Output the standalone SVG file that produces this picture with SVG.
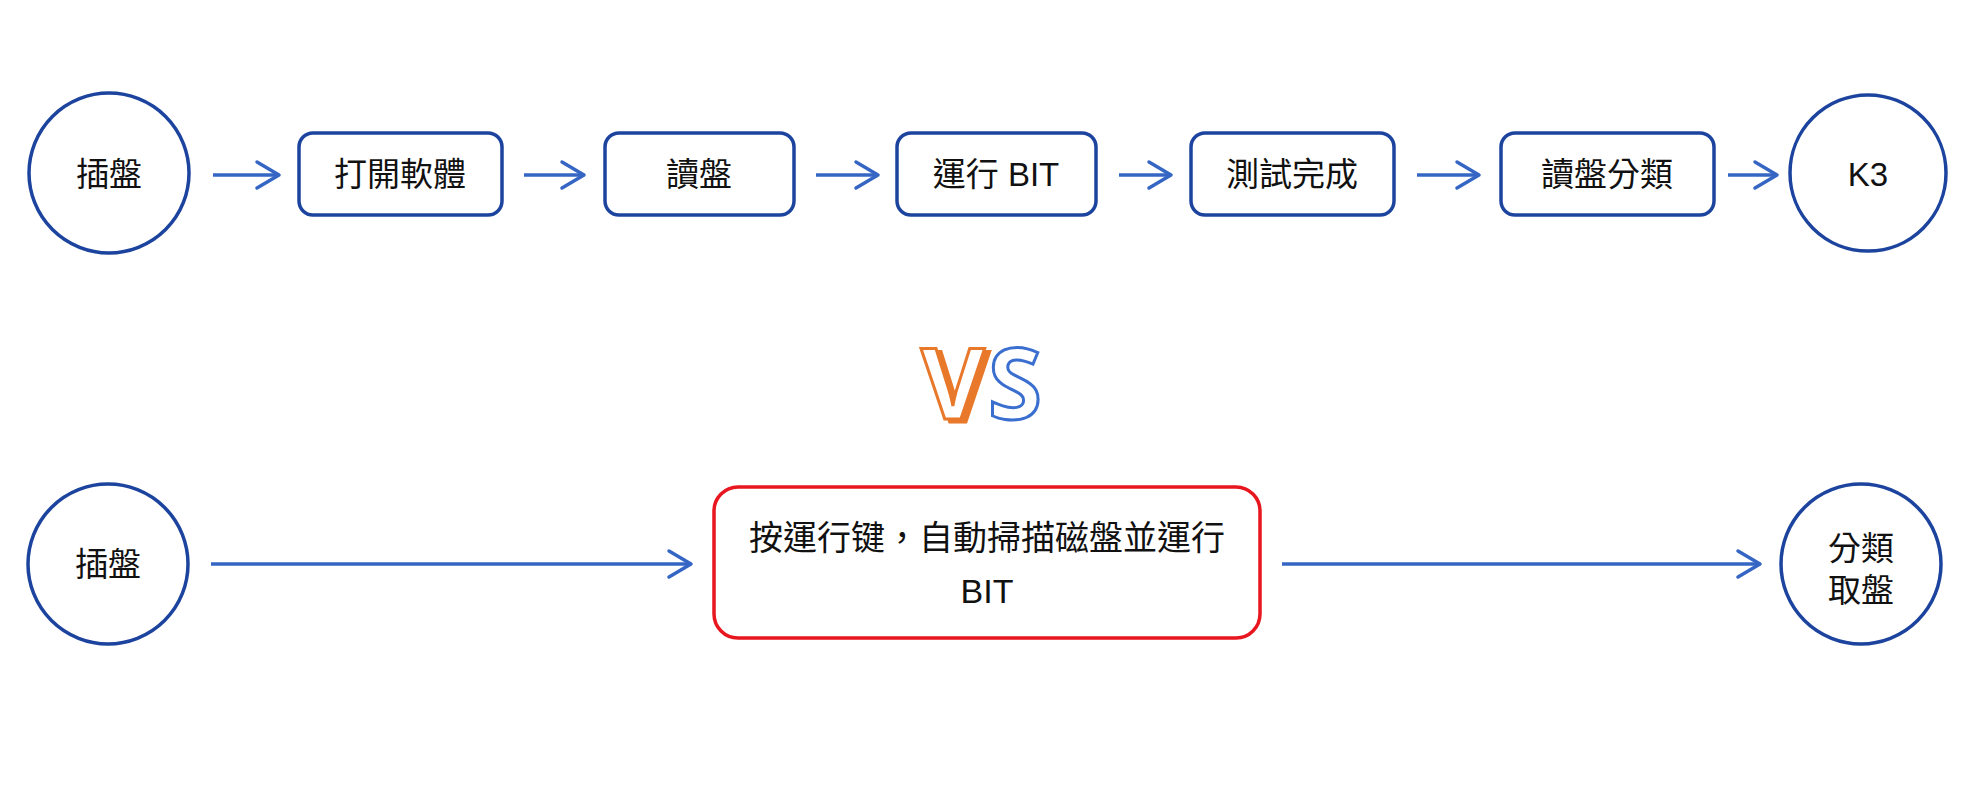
<svg xmlns="http://www.w3.org/2000/svg" width="1974" height="797" viewBox="0 0 1974 797">
  <style>
    .node { fill: #ffffff; stroke: #1c449e; stroke-width: 3.5; }
    .red { fill: #ffffff; stroke: #e8161e; stroke-width: 3.5; }
    .lbl { font-family: "Liberation Sans", "Noto Sans CJK TC", sans-serif; font-size: 33px; fill: #111111; text-anchor: middle; dominant-baseline: central; }
    .edge { stroke: #3566c4; stroke-width: 3.5; fill: none; marker-end: url(#arrow); }
    .vs { font-family: "Open Sans", "Liberation Sans", sans-serif; font-weight: 700; font-size: 98px; }
  </style>
  <defs>
    <marker id="arrow" markerUnits="userSpaceOnUse" markerWidth="30" markerHeight="34" refX="25" refY="16" orient="auto">
      <path d="M3,3 L25,16 L3,29" fill="none" stroke="#3566c4" stroke-width="3.5" stroke-linecap="round" stroke-linejoin="round"/>
    </marker>
    <filter id="vshadow" x="-20%" y="-20%" width="150%" height="150%">
      <feOffset in="SourceAlpha" dx="5" dy="3" result="off"/>
      <feFlood flood-color="#e8782a"/>
      <feComposite in2="off" operator="in" result="sh"/>
      <feMerge>
        <feMergeNode in="sh"/>
        <feMergeNode in="SourceGraphic"/>
      </feMerge>
    </filter>
  </defs>
  <rect width="1974" height="797" fill="#ffffff"/>

  <g id="connectors">
    <line class="edge" x1="213" y1="175" x2="279" y2="175"/>
    <line class="edge" x1="524" y1="175" x2="584" y2="175"/>
    <line class="edge" x1="816" y1="175" x2="878" y2="175"/>
    <line class="edge" x1="1119" y1="175" x2="1171" y2="175"/>
    <line class="edge" x1="1417" y1="175" x2="1479" y2="175"/>
    <line class="edge" x1="1728" y1="175" x2="1777" y2="175"/>
    <line class="edge" x1="211" y1="564" x2="691" y2="564"/>
    <line class="edge" x1="1282" y1="564" x2="1760" y2="564"/>
  </g>

  <g id="n-insert-top">
    <circle class="node" cx="109" cy="173" r="80"/>
    <text class="lbl" x="109" y="174">插盤</text>
  </g>
  <g id="n-open-software">
    <rect class="node" x="299" y="133" width="203" height="82" rx="14"/>
    <text class="lbl" x="400" y="174">打開軟體</text>
  </g>
  <g id="n-read-disk">
    <rect class="node" x="605" y="133" width="189" height="82" rx="14"/>
    <text class="lbl" x="699" y="174">讀盤</text>
  </g>
  <g id="n-run-bit">
    <rect class="node" x="897" y="133" width="199" height="82" rx="14"/>
    <text class="lbl" x="996" y="174">運行 BIT</text>
  </g>
  <g id="n-test-done">
    <rect class="node" x="1191" y="133" width="203" height="82" rx="14"/>
    <text class="lbl" x="1292" y="174">測試完成</text>
  </g>
  <g id="n-classify">
    <rect class="node" x="1501" y="133" width="213" height="82" rx="14"/>
    <text class="lbl" x="1607" y="174">讀盤分類</text>
  </g>
  <g id="n-k3">
    <circle class="node" cx="1868" cy="173" r="78"/>
    <text class="lbl" x="1868" y="174">K3</text>
  </g>

  <g id="vs">
    <text class="vs" x="921" y="419" fill="#ffffff" stroke="#e8782a" stroke-width="3" filter="url(#vshadow)">V</text>
    <text class="vs" x="988" y="419" fill="#ffffff" stroke="#3a6fd0" stroke-width="3">S</text>
  </g>

  <g id="n-insert-bottom">
    <circle class="node" cx="108" cy="564" r="80"/>
    <text class="lbl" x="108" y="564">插盤</text>
  </g>
  <g id="n-auto">
    <rect class="red" x="714" y="487" width="546" height="151" rx="24"/>
    <text class="lbl" x="987" y="538" style="font-size:34px">按運行键，自動掃描磁盤並運行</text>
    <text class="lbl" x="987" y="591" style="font-size:34px">BIT</text>
  </g>
  <g id="n-classify-take">
    <circle class="node" cx="1861" cy="564" r="80"/>
    <text class="lbl" x="1861" y="548">分類</text>
    <text class="lbl" x="1861" y="590">取盤</text>
  </g>
</svg>
